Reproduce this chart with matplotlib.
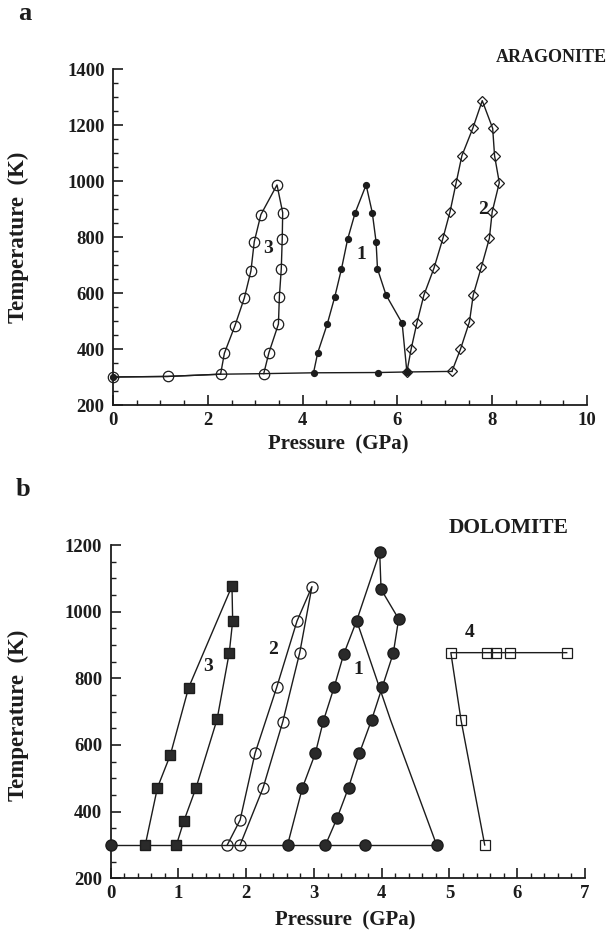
import matplotlib
matplotlib.use("Agg")
import matplotlib.pyplot as plt
from matplotlib.ticker import MultipleLocator

plt.rcParams['font.family'] = ['Liberation Serif', 'DejaVu Serif']
plt.rcParams['font.weight'] = 'bold'

INK = '#1c1c1c'

# ---------------- (a) ARAGONITE ----------------
ara_base_P = [0, 1.15, 2.27, 3.18, 4.23, 5.60, 6.20, 7.15]
ara_base_T = [300, 302, 310, 312, 315, 316, 318, 320]

ara3_P = [0, 1.15, 2.27, 2.35, 2.57, 2.77, 2.91, 2.98, 3.12, 3.46,
          3.58, 3.57, 3.55, 3.51, 3.49, 3.29, 3.18]
ara3_T = [300, 302, 310, 385, 482, 582, 679, 783, 880, 986,
          887, 792, 686, 587, 489, 387, 312]

ara1_P = [4.23, 4.32, 4.52, 4.68, 4.82, 4.95, 5.11, 5.34,
          5.47, 5.55, 5.58, 5.76, 6.10, 6.20]
ara1_T = [315, 387, 489, 587, 686, 792, 887, 986,
          887, 783, 686, 593, 492, 318]
ara1_extra_P = [0, 5.60]
ara1_extra_T = [300, 316]

ara2_P = [6.20, 6.29, 6.41, 6.56, 6.77, 6.96, 7.11, 7.24, 7.36, 7.59, 7.79,
          8.01, 8.05, 8.15, 8.00, 7.94, 7.77, 7.60, 7.52, 7.33, 7.15]
ara2_T = [318, 400, 492, 593, 688, 795, 890, 994, 1090, 1188, 1287,
          1188, 1090, 994, 890, 795, 692, 593, 497, 399, 320]

ara_labels = ['3', '1', '2']
ara_label_P = [3.28, 5.23, 7.81]
ara_label_T = [760, 736, 899]

# ---------------- (b) DOLOMITE ----------------
dol_base_P = [0, 0.51, 0.97, 1.72, 1.91, 2.61, 3.17, 3.75, 4.81]
dol_base_T = [300, 300, 300, 300, 300, 300, 300, 300, 300]

dol3_P = [0.51, 0.69, 0.88, 1.15, 1.79, 1.80, 1.75, 1.57, 1.26, 1.08, 0.97]
dol3_T = [300, 472, 570, 772, 1077, 972, 877, 677, 472, 372, 300]

dol2_P = [1.72, 1.91, 2.13, 2.45, 2.75, 2.97, 2.79, 2.54, 2.25, 1.91]
dol2_T = [300, 375, 575, 773, 972, 1075, 877, 670, 472, 300]

dol1_P = [2.61, 2.83, 3.02, 3.14, 3.30, 3.44, 3.63, 3.97, 3.99, 4.25,
          4.17, 4.01, 3.85, 3.67, 3.51, 3.34, 3.17]
dol1_T = [300, 472, 575, 673, 775, 873, 973, 1178, 1067, 978,
          875, 775, 675, 575, 472, 380, 300]
dol1_branch_P = [3.63, 4.13, 4.81]
dol1_branch_T = [973, 675, 300]
dol1_extra_P = [0, 3.75, 4.81]
dol1_extra_T = [300, 300, 300]

dol4_P = [5.52, 5.17, 5.02, 5.55, 5.69, 5.89, 6.73]
dol4_T = [300, 675, 877, 877, 877, 877, 877]

dol_labels = ['3', '2', '1', '4']
dol_label_P = [1.43, 2.40, 3.66, 5.30]
dol_label_T = [835, 885, 827, 937]

fig = plt.figure(figsize=(6.09, 9.36), dpi=100)
W, H = 609.0, 936.0
ax1 = fig.add_axes([113 / W, (H - 405) / H, 474 / W, 336 / H])
ax2 = fig.add_axes([110.7 / W, (H - 878.3) / H, 474.3 / W, 333.3 / H])

LW = 1.0


def style_axes(ax, xmax, ymax, xmaj, xmin, xlabels_fs=13.5):
    ax.set_xlim(0, xmax)
    ax.set_ylim(200, ymax)
    for s in ('top', 'right'):
        ax.spines[s].set_visible(False)
    for s in ('left', 'bottom'):
        ax.spines[s].set_linewidth(1.3)
        ax.spines[s].set_color(INK)
    ax.xaxis.set_major_locator(MultipleLocator(xmaj))
    ax.xaxis.set_minor_locator(MultipleLocator(xmin))
    ax.yaxis.set_major_locator(MultipleLocator(200))
    ax.yaxis.set_minor_locator(MultipleLocator(50))
    ax.tick_params(which='major', direction='in', length=7, width=1.2,
                   color=INK, labelsize=xlabels_fs, labelcolor=INK)
    ax.tick_params(which='minor', direction='in', length=3.5, width=1.0,
                   color=INK)
    ax.tick_params(axis='y', pad=6)
    ax.tick_params(axis='x', pad=5)
    for lab in ax.get_xticklabels() + ax.get_yticklabels():
        lab.set_fontweight('bold')
    ax.set_xlabel('Pressure  (GPa)', fontsize=15, fontweight='bold', color=INK)
    ax.set_ylabel('Temperature  (K)', fontsize=16.5, fontweight='bold', color=INK)


style_axes(ax1, 10, 1400, 2, 0.5)
style_axes(ax2, 7, 1200, 1, 0.2)
ax1.xaxis.set_label_coords(0.475, -0.089)
ax1.yaxis.set_label_coords(-0.178, 0.50)
ax2.xaxis.set_label_coords(0.494, -0.098)
ax2.yaxis.set_label_coords(-0.172, 0.49)

# ---- panel a ----
ax1.plot(ara_base_P, ara_base_T, '-', color=INK, lw=LW, zorder=2)
ax1.plot(ara3_P, ara3_T, '-', color=INK, lw=LW, marker='o', ms=7.5,
         mfc='none', mec=INK, mew=0.9, clip_on=False, zorder=3)
ax1.plot(ara1_P, ara1_T, '-', color=INK, lw=LW, marker='o', ms=4.2,
         mfc=INK, mec=INK, clip_on=False, zorder=4)
ax1.plot(ara1_extra_P, ara1_extra_T, 'o', ms=4.2, mfc=INK, mec=INK,
         clip_on=False, zorder=4)
ax1.plot(ara2_P, ara2_T, '-', color=INK, lw=LW, marker='D', ms=5.0,
         mfc='none', mec=INK, mew=0.9, clip_on=False, zorder=3)
for t, px, ty in zip(ara_labels, ara_label_P, ara_label_T):
    ax1.text(px, ty, t, fontsize=14, fontweight='bold', color=INK,
             ha='center', va='center')

# ---- panel b ----
ax2.plot(dol_base_P, dol_base_T, '-', color=INK, lw=LW, zorder=2)
ax2.plot(dol3_P, dol3_T, '-', color=INK, lw=LW, marker='s', ms=7.5,
         mfc='#2a2a2a', mec=INK, clip_on=False, zorder=3)
ax2.plot(dol2_P, dol2_T, '-', color=INK, lw=LW, marker='o', ms=8,
         mfc='none', mec=INK, mew=0.9, clip_on=False, zorder=3)
ax2.plot(dol1_branch_P, dol1_branch_T, '-', color=INK, lw=LW, zorder=2)
ax2.plot(dol1_P, dol1_T, '-', color=INK, lw=LW, marker='o', ms=8,
         mfc='#2a2a2a', mec=INK, clip_on=False, zorder=3)
ax2.plot(dol1_extra_P, dol1_extra_T, 'o', ms=8, mfc='#2a2a2a', mec=INK,
         clip_on=False, zorder=3)
ax2.plot(dol4_P, dol4_T, '-', color=INK, lw=LW, marker='s', ms=7.5,
         mfc='none', mec=INK, mew=0.9, clip_on=False, zorder=3)
for t, px, ty in zip(dol_labels, dol_label_P, dol_label_T):
    ax2.text(px, ty, t, fontsize=14, fontweight='bold', color=INK,
             ha='center', va='center')

# titles and panel letters
fig.text(607 / W, 1 - 57 / H, 'ARAGONITE', fontsize=13, fontweight='bold',
         color=INK, ha='right', va='center')
fig.text(509 / W, 1 - 528 / H, 'DOLOMITE', fontsize=15.5, fontweight='bold',
         color=INK, ha='center', va='center')
fig.text(25 / W, 1 - 14 / H, 'a', fontsize=19, fontweight='bold',
         color=INK, ha='center', va='center')
fig.text(23 / W, 1 - 490 / H, 'b', fontsize=19, fontweight='bold',
         color=INK, ha='center', va='center')

fig.savefig('out.png', dpi=100, facecolor='white')
